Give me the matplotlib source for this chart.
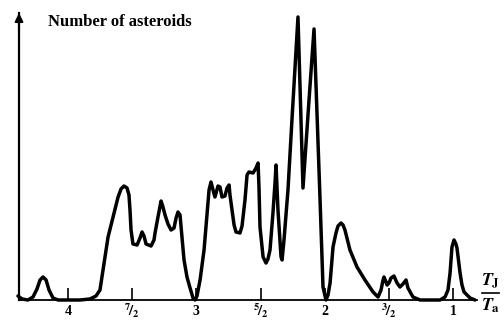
import matplotlib.pyplot as plt
import numpy as np

plt.rcParams['font.family'] = 'Liberation Serif'
plt.rcParams['font.weight'] = 'bold'
plt.rcParams['mathtext.fontset'] = 'stix'
plt.rcParams['mathtext.default'] = 'bf'

# period ratio T_J / T_a and relative number of asteroids
ratio = [4.390, 4.358, 4.312, 4.273, 4.242, 4.218, 4.195, 4.171, 4.148, 4.117,
         4.078, 4.000, 3.906, 3.829, 3.782, 3.751, 3.727, 3.688, 3.649, 3.610,
         3.587, 3.564, 3.540, 3.525, 3.517, 3.509, 3.494, 3.462, 3.439, 3.423,
         3.408, 3.392, 3.353, 3.330, 3.322, 3.299, 3.275, 3.260, 3.244, 3.221,
         3.197, 3.174, 3.158, 3.143, 3.127, 3.119, 3.096, 3.073, 3.049, 3.026,
         3.010, 2.995, 2.971, 2.940, 2.901, 2.886, 2.870, 2.855, 2.831, 2.816,
         2.800, 2.777, 2.761, 2.745, 2.738, 2.722, 2.706, 2.691, 2.660, 2.644,
         2.621, 2.605, 2.590, 2.558, 2.535, 2.519, 2.512, 2.504, 2.480, 2.457,
         2.442, 2.426, 2.403, 2.387, 2.379, 2.364, 2.340, 2.332, 2.317, 2.286,
         2.255, 2.208, 2.169, 2.122, 2.083, 2.036, 2.013, 1.990, 1.974, 1.958,
         1.935, 1.912, 1.896, 1.873, 1.857, 1.842, 1.803, 1.748, 1.686, 1.623,
         1.584, 1.561, 1.545, 1.538, 1.522, 1.514, 1.499, 1.483, 1.460, 1.436,
         1.413, 1.390, 1.366, 1.351, 1.312, 1.257, 1.101, 1.062, 1.039, 1.023,
         1.008, 0.992, 0.977, 0.969, 0.945, 0.930, 0.914, 0.867, 0.829]
count = [4, 1, 0, 3, 11, 20, 23, 20, 10, 2,
         0, 0, 0, 1, 4, 10, 30, 63, 83, 103,
         111, 114, 112, 105, 90, 70, 56, 55, 62, 68,
         64, 56, 54, 60, 67, 83, 99, 93, 85, 76,
         70, 72, 82, 88, 85, 73, 40, 23, 12, 2,
         0, 4, 20, 50, 110, 118, 110, 103, 114, 113,
         103, 104, 112, 115, 105, 90, 75, 68, 67, 74,
         100, 125, 128, 127, 132, 137, 113, 73, 43, 37,
         41, 50, 87, 117, 135, 90, 43, 40, 60, 110,
         180, 283, 112, 200, 271, 100, 13, 0, 5, 17,
         53, 67, 74, 77, 75, 70, 50, 33, 20, 8,
         3, 10, 20, 23, 18, 15, 17, 22, 24, 17,
         13, 16, 20, 12, 3, 0, 0, 3, 10, 27,
         53, 60, 56, 52, 27, 15, 8, 2, 0]

ticks = [4, 3.5, 3, 2.5, 2, 1.5, 1]
tick_labels = ['4', r'$^7\!/_2$', '3', r'$^5\!/_2$', '2', r'$^3\!/_2$', '1']

fig = plt.figure(figsize=(5.04, 3.2), dpi=100)
ax = fig.add_axes([19 / 504, 20 / 320, 458 / 504, 287 / 320])

ax.plot(ratio, count, color='black', lw=2.5, solid_joinstyle='round',
        solid_capstyle='round', clip_on=False)

ax.set_xlim(4.382, 0.813)
ax.set_ylim(0, 287)

for side in ['top', 'right']:
    ax.spines[side].set_visible(False)
ax.spines['bottom'].set_linewidth(1.3)
ax.spines['left'].set_linewidth(1.6)

ax.set_yticks([])
ax.set_xticks(ticks)
ax.set_xticklabels([])
ax.tick_params(axis='x', direction='in', length=9, width=1.2)

# tick labels placed by hand so the fractions sit like the integers
for t, lab in zip(ticks, tick_labels):
    if '/' in lab:
        size, y = 10.5, -15.5 / 287
    else:
        size, y = 10, -15 / 287
    ax.text(t, y, lab, transform=ax.get_xaxis_transform(),
            ha='center', va='baseline', fontsize=size, fontweight='bold')

# arrow head on the vertical axis
ax.annotate('', xy=(0, 1.0), xytext=(0, 0.94), xycoords='axes fraction',
            arrowprops=dict(arrowstyle='-|>', color='black', lw=1.5,
                            mutation_scale=12, shrinkA=0, shrinkB=0))

fig.text(48 / 504, 1 - 22 / 320, 'Number of asteroids', fontsize=12,
         fontweight='bold', va='center', ha='left')

# T_J / T_a fraction at the end of the horizontal axis
fig.text(491 / 504, 1 - 285 / 320, r'$\mathit{T}_{\mathbf{J}}$', fontsize=13,
         ha='center', va='baseline')
fig.text(491 / 504, 1 - 310 / 320, r'$\mathit{T}_{\mathbf{a}}$', fontsize=13,
         ha='center', va='baseline')
fig.add_artist(plt.Line2D([482 / 504, 499 / 504], [1 - 293 / 320, 1 - 293 / 320],
                          color='black', lw=1.2))

fig.savefig('out.png', dpi=100)
